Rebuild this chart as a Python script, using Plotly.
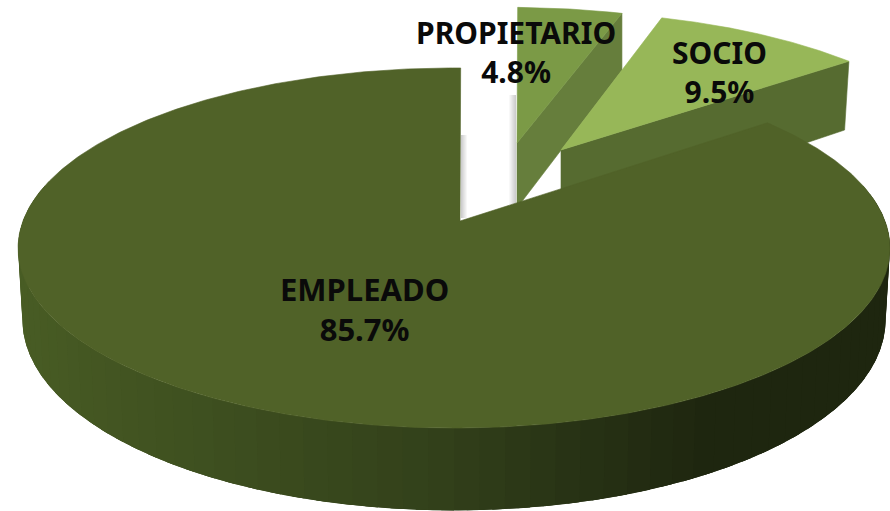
import numpy as np
import plotly.graph_objects as go

categories = ["EMPLEADO", "PROPIETARIO", "SOCIO"]
values = [85.7, 4.8, 9.5]
value_labels = ["85.7%", "4.8%", "9.5%"]

ROTATION = 52.5
PERSP = 0.15
W, H = 890, 511

# centre x, centre y, half width, half height, skew, depth, taper, apex x
GEOM = {
    "EMPLEADO": dict(cx=454, cy=221, b=431, a=176, s=0, h=70, taper=0.99, ax=460),
    "PROPIETARIO": dict(cx=517, cy=143, b=403, a=156, s=-7, h=65, taper=1.0, ax=517),
    "SOCIO": dict(cx=561, cy=150, b=406, a=159, s=-13, h=75, taper=0.985, ax=561),
}
TOP = {"EMPLEADO": "#506228", "PROPIETARIO": "#7b9a46", "SOCIO": "#97b758"}
WALL = {"PROPIETARIO": "#667e3c", "SOCIO": "#566b30"}

# slice spans come from the values
total = sum(values)
spans = {}
start = ROTATION
for cat, val in zip(categories, values):
    end = start + val / total * 360
    spans[cat] = (start, end)
    start = end


def arc(g, t0, t1, n=200):
    th = np.radians(np.linspace(t0, t1, n))
    X, Y = np.sin(th), np.cos(th)
    w = 1 + PERSP * Y
    return g["cx"] + (g["b"] * X + g["s"] * Y) / w, g["cy"] - g["a"] * Y / w, w


def lower(g, x, y, w):
    return g["cx"] + (x - g["cx"]) * g["taper"], y + g["h"] / w


def poly(x, y, color, lw=0.6):
    return go.Scatter(x=list(x), y=list(y), mode="lines", fill="toself", fillcolor=color,
                      line=dict(color=color, width=lw), hoverinfo="skip", showlegend=False)


def mix(c0, c1, f):
    return "rgb(%d,%d,%d)" % tuple(round(a + (b - a) * f) for a, b in zip(c0, c1))


fig = go.Figure()

# soft shadows on the white gap
for x0, x1, y0, y1, n in [(461, 468, 135, 218, 7), (508, 516, 95, 205, 8)]:
    for i in range(n):
        f = i / max(n - 1, 1)
        xa = x0 + (x1 - x0) * i / n
        xb = x0 + (x1 - x0) * (i + 1) / n
        g = f if x0 == 508 else 1 - f
        c = mix((255, 255, 255), (205, 205, 205), g)
        fig.add_trace(poly([xa, xb, xb, xa], [y0, y0, y1, y1], c, 0))

# side slices: cut wall, then top surface
for cat in ["PROPIETARIO", "SOCIO"]:
    g = GEOM[cat]
    t0, t1 = spans[cat]
    t0, t1 = t0 % 360, (t0 % 360) + (t1 - t0)
    ax, ay, aw = arc(g, t1, t1, 1)
    tx, ty = ax[0], ay[0]
    bx, by = lower(g, tx, ty, aw[0])
    apex_x, apex_y = g["cx"], g["cy"]
    low_x = g["cx"]
    low_y = g["cy"] + g["h"]
    fig.add_trace(poly([apex_x, tx, bx, low_x, apex_x], [apex_y, ty, by, low_y, apex_y], WALL[cat]))
    x, y, _ = arc(g, t0, t1)
    fig.add_trace(poly([g["ax"], *x, g["ax"]], [g["cy"], *y, g["cy"]], TOP[cat]))

# main slice: curved wall in shaded strips, then top surface
g = GEOM["EMPLEADO"]
t0, t1 = spans["EMPLEADO"]
STRIPS = 70
edges = np.linspace(78, 282, STRIPS + 1)
left_col, mid_col, right_col = (72, 92, 36), (50, 64, 26), (30, 38, 15)
# painted from the right-hand end to the left, each strip overlapping the next
for i in range(STRIPS):
    x, y, w = arc(g, edges[i], min(edges[i] + (edges[1] - edges[0]) * 2.5, 282), 7)
    bx, by = lower(g, x, y, w)
    xm, _, _ = arc(g, edges[i], edges[i], 1)
    xm = (xm[0] - 18) / 872
    if xm > 0.5:
        c = mix(mid_col, right_col, min((xm - 0.5) / 0.3, 1))
    else:
        c = mix(left_col, mid_col, max(xm, 0) / 0.5)
    fig.add_trace(poly([*x, *bx[::-1]], [*y, *by[::-1]], c, 0))
x, y, _ = arc(g, t0, t1, 500)
fig.add_trace(poly([g["ax"], *x, g["ax"]], [g["cy"], *y, g["cy"]], TOP["EMPLEADO"]))

# labels
LABEL_POS = {"EMPLEADO": (364, 309), "PROPIETARIO": (516, 52), "SOCIO": (719, 72)}
LABEL_SIZE = {"EMPLEADO": 31, "PROPIETARIO": 30, "SOCIO": 30}
for cat, lab in zip(categories, value_labels):
    px, py = LABEL_POS[cat]
    fig.add_annotation(x=px, y=py, text=f"{cat}<br>{lab}", showarrow=False, xref="x", yref="y",
                       align="center",
                       font=dict(family="Noto Sans", size=LABEL_SIZE[cat], color="#0a0a0a", weight=700))

fig.update_layout(
    width=W, height=H, margin=dict(l=0, r=0, t=0, b=0),
    paper_bgcolor="white", plot_bgcolor="white", showlegend=False,
    xaxis=dict(range=[0, W], visible=False, fixedrange=True),
    yaxis=dict(range=[H, 0], visible=False, fixedrange=True),
)
fig.write_html("out.html", config={"displayModeBar": False},
               post_script="document.body.style.margin='0';document.body.style.overflow='hidden';")
